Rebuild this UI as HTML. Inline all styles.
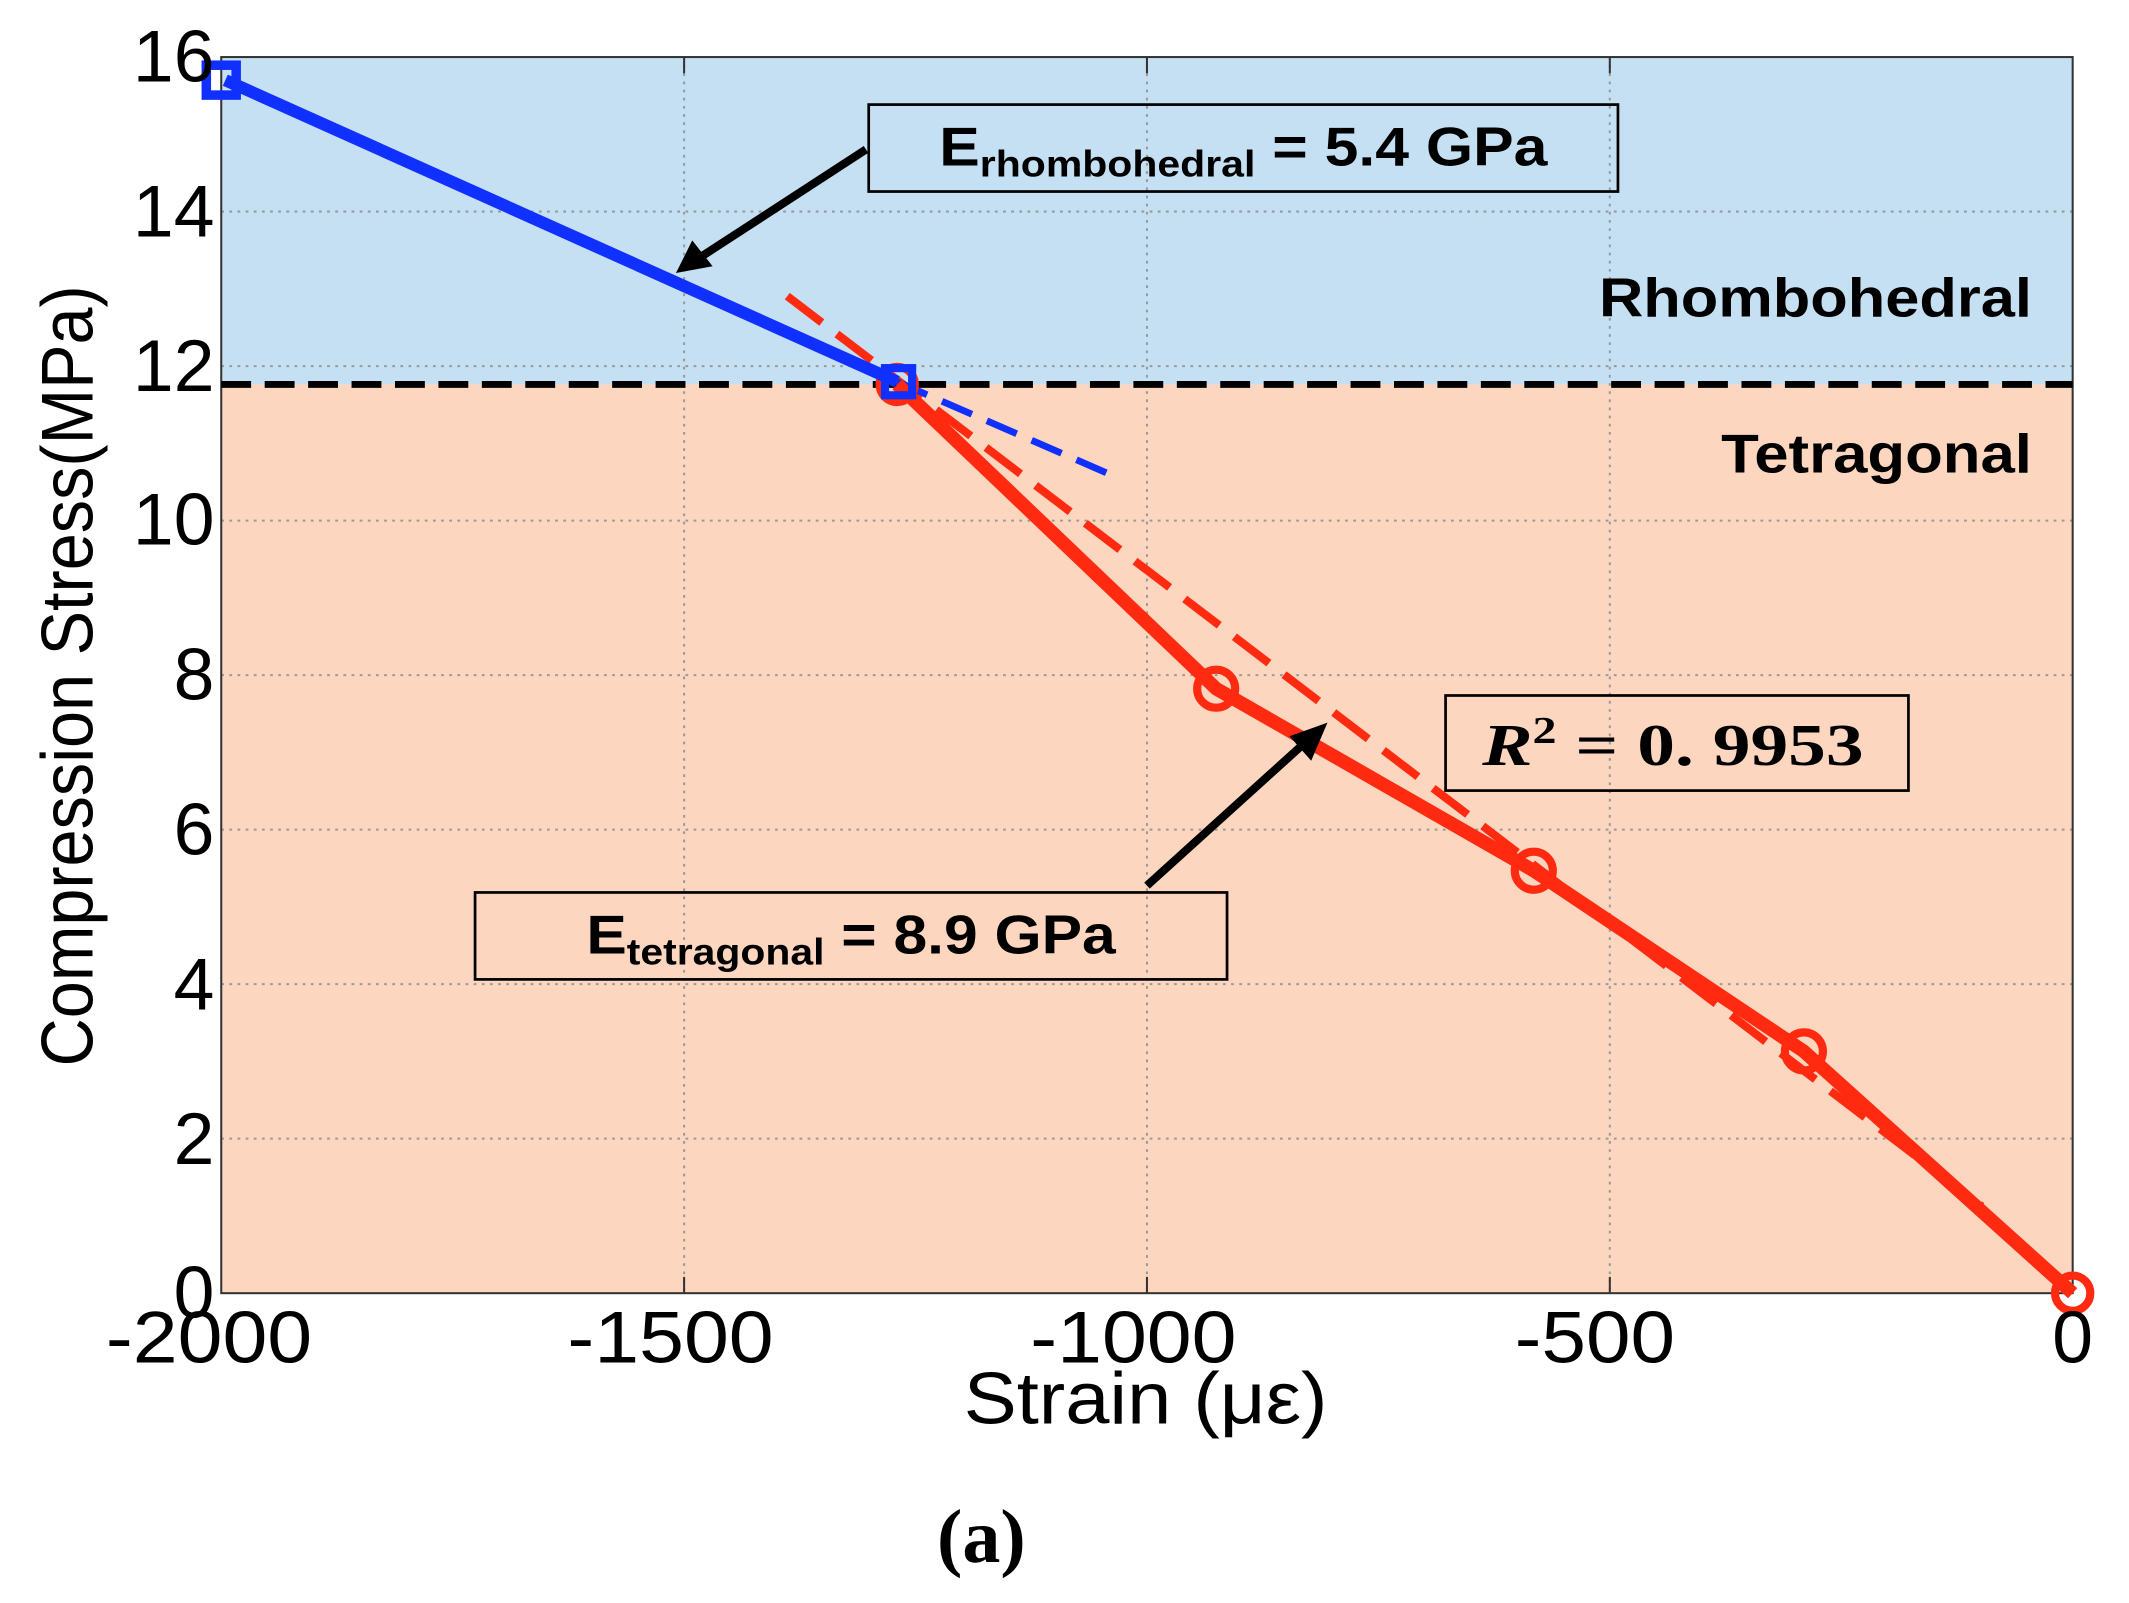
<!DOCTYPE html>
<html><head><style>html,body{margin:0;padding:0;background:#fff;overflow:hidden}</style></head>
<body>
<svg width="2129" height="1598" viewBox="0 0 1568.5 1176.4" preserveAspectRatio="none" xmlns="http://www.w3.org/2000/svg">
<rect x="163" y="42" width="1364" height="241" fill="#c5e0f2"/>
<rect x="163" y="283" width="1364" height="669" fill="#fdd6c0"/>
<g stroke="#999" stroke-width="1.5" stroke-dasharray="2,4">
<line x1="504" y1="42" x2="504" y2="952"/><line x1="845" y1="42" x2="845" y2="952"/><line x1="1186" y1="42" x2="1186" y2="952"/>
<line x1="163" y1="155.75" x2="1527" y2="155.75"/><line x1="163" y1="269.5" x2="1527" y2="269.5"/><line x1="163" y1="383.25" x2="1527" y2="383.25"/>
<line x1="163" y1="497" x2="1527" y2="497"/><line x1="163" y1="610.75" x2="1527" y2="610.75"/><line x1="163" y1="724.5" x2="1527" y2="724.5"/><line x1="163" y1="838.25" x2="1527" y2="838.25"/>
</g>
<rect x="163" y="42" width="1364" height="910" fill="none" stroke="#333" stroke-width="1.5"/>
<g stroke="#333" stroke-width="1.5">
<line x1="504" y1="952" x2="504" y2="940"/><line x1="845" y1="952" x2="845" y2="940"/><line x1="1186" y1="952" x2="1186" y2="940"/>
<line x1="504" y1="42" x2="504" y2="54"/><line x1="845" y1="42" x2="845" y2="54"/><line x1="1186" y1="42" x2="1186" y2="54"/>
</g>
<line x1="163" y1="283" x2="1527" y2="283" stroke="#000" stroke-width="5" stroke-dasharray="22,10"/>
<line x1="580" y1="218" x2="1460" y2="888" stroke="#ff2a10" stroke-width="6" stroke-dasharray="32,14"/>
<line x1="661" y1="281" x2="815" y2="348" stroke="#1030ff" stroke-width="5" stroke-dasharray="24,12"/>
<polyline points="661,283 896,507 1130,641 1329,774 1527,952" fill="none" stroke="#ff2a10" stroke-width="10" stroke-linejoin="round"/>
<g fill="none" stroke="#ff2a10" stroke-width="6">
<circle cx="661" cy="283" r="13"/><circle cx="896" cy="507" r="14"/><circle cx="1130" cy="641" r="14"/><circle cx="1329" cy="774" r="14"/><circle cx="1527" cy="952" r="13"/>
</g>
<line x1="166" y1="59" x2="661" y2="281" stroke="#1030ff" stroke-width="9"/>
<rect x="152" y="48" width="22" height="22" fill="none" stroke="#1030ff" stroke-width="7"/>
<rect x="652" y="271" width="20" height="20" fill="none" stroke="#1030ff" stroke-width="6"/>
<g stroke="#000" stroke-width="6">
<line x1="638" y1="110" x2="515" y2="190"/><line x1="845" y1="652" x2="960" y2="548"/>
</g>
<polygon points="498,201 510,177 525,196" fill="#000"/>
<polygon points="978,532 950,542 966,560" fill="#000"/>
<g fill="none" stroke="#000" stroke-width="2">
<rect x="640" y="77" width="552" height="64"/><rect x="350" y="657" width="554" height="64"/><rect x="1065" y="512" width="341" height="70"/>
</g>
<g font-family="Liberation Sans, sans-serif" font-weight="bold" fill="#000">
<text x="692" y="122" font-size="40" textLength="448" lengthAdjust="spacingAndGlyphs">E<tspan font-size="27" dy="8">rhombohedral</tspan><tspan dy="-8"> = 5.4 GPa</tspan></text>
<text x="432" y="702" font-size="40" textLength="390" lengthAdjust="spacingAndGlyphs">E<tspan font-size="27" dy="8">tetragonal</tspan><tspan dy="-8"> = 8.9 GPa</tspan></text>
<text x="1178" y="233" font-size="40" textLength="319" lengthAdjust="spacingAndGlyphs">Rhombohedral</text>
<text x="1268" y="348" font-size="40" textLength="229" lengthAdjust="spacingAndGlyphs">Tetragonal</text>
</g>
<text x="1092" y="563" font-family="Liberation Serif, serif" font-weight="bold" font-size="44" textLength="281" lengthAdjust="spacingAndGlyphs"><tspan font-style="italic">R</tspan><tspan font-size="28" dy="-16">2</tspan><tspan dy="16"> = 0. 9953</tspan></text>
<g font-family="Liberation Sans, sans-serif" font-size="54" fill="#000">
<text x="158" y="60" text-anchor="end">16</text>
<text x="158" y="174" text-anchor="end">14</text>
<text x="158" y="288" text-anchor="end">12</text>
<text x="158" y="401" text-anchor="end">10</text>
<text x="158" y="515" text-anchor="end">8</text>
<text x="158" y="629" text-anchor="end">6</text>
<text x="158" y="743" text-anchor="end">4</text>
<text x="158" y="857" text-anchor="end">2</text>
<text x="158" y="970" text-anchor="end">0</text>
<text x="78" y="1003" textLength="152" lengthAdjust="spacingAndGlyphs">-2000</text>
<text x="418" y="1003" textLength="152" lengthAdjust="spacingAndGlyphs">-1500</text>
<text x="759" y="1003" textLength="152" lengthAdjust="spacingAndGlyphs">-1000</text>
<text x="1116" y="1003" textLength="118" lengthAdjust="spacingAndGlyphs">-500</text>
<text x="1527" y="1003" text-anchor="middle">0</text>
<text x="710" y="1048" font-size="54" textLength="268" lengthAdjust="spacingAndGlyphs">Strain (με)</text>
<text transform="translate(68,785) rotate(-90)" font-size="54" textLength="575" lengthAdjust="spacingAndGlyphs">Compression Stress(MPa)</text>
</g>
<text x="723" y="1150" text-anchor="middle" font-family="Liberation Serif, serif" font-weight="bold" font-size="56">(a)</text>
</svg>
</body></html>
